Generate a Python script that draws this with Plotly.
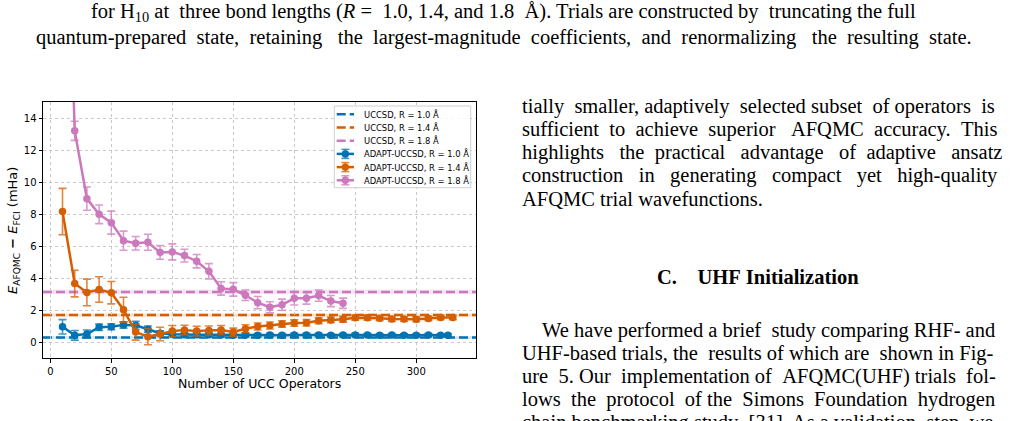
import plotly.graph_objects as go

# ---------------- data ----------------
x_r10 = [10, 20, 30, 40, 50, 60, 70, 80, 90, 100, 110, 120, 130, 140, 150, 160, 170, 180,
         190, 200, 210, 220, 230, 240, 250, 260, 270, 280, 290, 300, 310, 320, 326]
y_r10 = [0.95, 0.42, 0.50, 0.92, 0.95, 1.07, 1.05, 0.80, 0.55, 0.48, 0.45, 0.45, 0.45, 0.44,
         0.42, 0.44, 0.42, 0.43, 0.42, 0.44, 0.43, 0.44, 0.42, 0.43, 0.44, 0.43, 0.42, 0.43,
         0.42, 0.42, 0.43, 0.42, 0.42]
e_r10 = [0.45, 0.30, 0.25, 0.20, 0.18, 0.20, 0.25, 0.20, 0.15, 0.13, 0.12, 0.12, 0.12, 0.12,
         0.12, 0.12, 0.11, 0.11, 0.11, 0.11, 0.11, 0.11, 0.10, 0.10, 0.10, 0.10, 0.10, 0.10,
         0.10, 0.10, 0.10, 0.10, 0.10]

x_r14 = [10, 20, 30, 40, 50, 60, 70, 80, 90, 100, 110, 120, 130, 140, 150, 160, 170, 180,
         190, 200, 210, 220, 230, 240, 250, 260, 270, 280, 290, 300, 310, 320, 330]
y_r14 = [8.15, 3.65, 3.10, 3.28, 3.08, 2.02, 0.62, 0.33, 0.50, 0.68, 0.75, 0.68, 0.72, 0.75,
         0.62, 0.83, 0.97, 1.03, 1.13, 1.18, 1.20, 1.33, 1.38, 1.42, 1.52, 1.52, 1.48, 1.43,
         1.43, 1.42, 1.47, 1.53, 1.53]
e_r14 = [1.45, 0.83, 0.83, 0.80, 0.70, 0.78, 0.50, 0.50, 0.42, 0.35, 0.30, 0.30, 0.28, 0.28,
         0.25, 0.25, 0.22, 0.22, 0.20, 0.20, 0.20, 0.18, 0.18, 0.18, 0.16, 0.16, 0.15, 0.15,
         0.15, 0.15, 0.14, 0.14, 0.14]

x_r18 = [10, 20, 30, 40, 50, 60, 70, 80, 90, 100, 110, 120, 130, 140, 150, 160, 170, 180,
         190, 200, 210, 220, 230, 240]
y_r18 = [38.0, 13.2, 8.96, 7.98, 7.46, 6.33, 6.17, 6.23, 5.60, 5.63, 5.40, 5.05, 4.42, 3.35,
         3.29, 2.92, 2.46, 2.17, 2.33, 2.73, 2.73, 2.90, 2.56, 2.42]
e_r18 = [2.0, 0.60, 0.73, 0.58, 0.72, 0.60, 0.42, 0.50, 0.43, 0.50, 0.40, 0.42, 0.48, 0.42,
         0.42, 0.33, 0.38, 0.35, 0.35, 0.42, 0.36, 0.35, 0.35, 0.32]

uccsd_vals = [0.28, 1.68, 3.13]
uccsd_errs = [0.08, 0.10, 0.15]

colors = ["#0173b2", "#d55e00", "#cc78bc"]
err_colors = ["rgba(1,115,178,0.75)", "rgba(213,94,0,0.75)", "rgba(204,120,188,0.75)"]
band_colors = ["rgba(1,115,178,0.18)", "rgba(213,94,0,0.18)", "rgba(204,120,188,0.2)"]
labels_uccsd = ["UCCSD, R = 1.0 Å", "UCCSD, R = 1.4 Å", "UCCSD, R = 1.8 Å"]
labels_adapt = ["ADAPT-UCCSD, R = 1.0 Å", "ADAPT-UCCSD, R = 1.4 Å", "ADAPT-UCCSD, R = 1.8 Å"]

x_ticks = [0, 50, 100, 150, 200, 250, 300]
y_ticks = [0, 2, 4, 6, 8, 10, 12, 14]

caption_lines = [
    "for H<sub>10</sub> at three bond lengths (<i>R</i> = 1.0, 1.4, and 1.8 Å). Trials are constructed by truncating the full",
    "quantum-prepared state, retaining the largest-magnitude coefficients, and renormalizing the resulting state.",
]
body_lines_1 = [
    "tially smaller, adaptively selected subset of operators is",
    "sufficient to achieve superior AFQMC accuracy. This",
    "highlights the practical advantage of adaptive ansatz",
    "construction in generating compact yet high-quality",
    "AFQMC trial wavefunctions.",
]
section_title = "C.    UHF Initialization"
body_lines_2 = [
    "We have performed a brief study comparing RHF- and",
    "UHF-based trials, the results of which are shown in Fig-",
    "ure 5. Our implementation of AFQMC(UHF) trials fol-",
    "lows the protocol of the Simons Foundation hydrogen",
    "chain benchmarking study [31]. As a validation step, we",
]
# extra non-breaking spaces used to imitate the justified typesetting
caption_pad = [4, 12]
body1_pad = [4, 7, 10, 10, 0]
body2_pad = [1, 2, 4, 6, 2]

# ---------------- layout geometry (pixels) ----------------
W, H = 1017, 421
L, R, T, B = 43, 476, 102, 358


def px(x):
    return (x - L) / (R - L)


def py(y):
    return (B - y) / (B - T)


def justify(line, n):
    words = line.split(" ")
    g = len(words) - 1
    if n <= 0 or g <= 0:
        return line
    extra = [0] * g
    for j in range(n):
        extra[int((j + 0.5) * g / n)] += 1
    out = words[0]
    for i in range(g):
        out += " " + "\u00a0" * extra[i] + words[i + 1]
    return out


fig = go.Figure()

# UCCSD reference bands and dashed lines
for v, e, c, bc in zip(uccsd_vals, uccsd_errs, colors, band_colors):
    fig.add_shape(type="rect", xref="paper", yref="y", x0=0, x1=1, y0=v - e, y1=v + e,
                  fillcolor=bc, line=dict(width=0), layer="between")
    fig.add_shape(type="line", xref="paper", yref="y", x0=0, x1=1, y0=v, y1=v,
                  line=dict(color=c, width=2.5, dash="9px,4px"), layer="between")

# ADAPT series
for xs, ys, es, c, ec, lab in zip([x_r10, x_r14, x_r18], [y_r10, y_r14, y_r18],
                                  [e_r10, e_r14, e_r18], colors, err_colors, labels_adapt):
    fig.add_trace(go.Scatter(
        x=xs, y=ys, mode="lines+markers", name=lab, showlegend=False,
        line=dict(color=c, width=2.5),
        marker=dict(color=c, size=7.5),
        error_y=dict(type="data", array=es, visible=True, color=ec, thickness=1.6, width=4),
        cliponaxis=True,
    ))

axis_common = dict(
    showline=True, mirror=True, linecolor="black", linewidth=1,
    ticks="outside", ticklen=3.5, tickwidth=0.8, tickcolor="black",
    showgrid=True, gridcolor="#c8c8c8", griddash="dot", gridwidth=0.8,
    zeroline=False, tickfont=dict(family="DejaVu Sans", size=10, color="black"),
)

fig.update_xaxes(range=[-6, 349], tickvals=x_ticks, **axis_common)
fig.update_yaxes(range=[-1, 15], tickvals=y_ticks, **axis_common)

anns = []
# axis titles
anns.append(dict(x=px((L + R) / 2), y=py(383), xref="paper", yref="paper",
                 text="Number of UCC Operators", showarrow=False,
                 font=dict(family="DejaVu Sans", size=12.5, color="black"),
                 xanchor="center", yanchor="middle"))
anns.append(dict(x=px(13), y=py(231), xref="paper", yref="paper",
                 text="<i>E</i><sub>AFQMC</sub> <b>−</b> <i>E</i><sub>FCI</sub> (mHa)",
                 showarrow=False, textangle=-90,
                 font=dict(family="DejaVu Sans", size=13, color="black"),
                 xanchor="center", yanchor="middle"))

# manual legend
lg_x0, lg_x1, lg_y0, lg_y1 = 334.3, 470.7, 106, 187.7
fig.add_shape(type="rect", xref="paper", yref="paper", x0=px(lg_x0), x1=px(lg_x1),
              y0=py(lg_y1), y1=py(lg_y0), fillcolor="rgba(255,255,255,0.85)",
              line=dict(color="#d0d0d0", width=1), layer="above")
row_y = [114.3 + 13.2 * i for i in range(6)]
sw0, sw1 = 336.7, 354.0
swc = (sw0 + sw1) / 2
for i, (c, lab) in enumerate(zip(colors, labels_uccsd)):
    yy = row_y[i]
    fig.add_shape(type="line", xref="paper", yref="paper", x0=px(sw0), x1=px(sw1),
                  y0=py(yy), y1=py(yy), line=dict(color=c, width=2.5, dash="9px,4px"),
                  layer="above")
    anns.append(dict(x=px(361.7), y=py(yy), xref="paper", yref="paper", text=lab,
                     showarrow=False, xanchor="left", yanchor="middle",
                     font=dict(family="DejaVu Sans", size=8.4, color="black")))
for i, (c, ec, lab) in enumerate(zip(colors, err_colors, labels_adapt)):
    yy = row_y[i + 3]
    fig.add_shape(type="line", xref="paper", yref="paper", x0=px(sw0), x1=px(sw1),
                  y0=py(yy), y1=py(yy), line=dict(color=c, width=2.5), layer="above")
    fig.add_shape(type="line", xref="paper", yref="paper", x0=px(swc), x1=px(swc),
                  y0=py(yy - 4.5), y1=py(yy + 4.5), line=dict(color=ec, width=1.6), layer="above")
    for dy in (-4.5, 4.5):
        fig.add_shape(type="line", xref="paper", yref="paper", x0=px(swc - 4), x1=px(swc + 4),
                      y0=py(yy + dy), y1=py(yy + dy), line=dict(color=ec, width=1.6), layer="above")
    fig.add_shape(type="circle", xref="paper", yref="paper", x0=px(swc - 3.7), x1=px(swc + 3.7),
                  y0=py(yy + 3.7), y1=py(yy - 3.7), fillcolor=c, line=dict(width=0), layer="above")
    anns.append(dict(x=px(361.7), y=py(yy), xref="paper", yref="paper", text=lab,
                     showarrow=False, xanchor="left", yanchor="middle",
                     font=dict(family="DejaVu Sans", size=8.4, color="black")))

# surrounding paper text
serif = dict(family="Liberation Serif", size=20.5, color="black")
for i, line in enumerate(caption_lines):
    anns.append(dict(x=px(503.5), y=py(12 + 25 * i), xref="paper", yref="paper",
                     text=justify(line, caption_pad[i]),
                     showarrow=False, xanchor="center", yanchor="middle", font=serif))
for i, line in enumerate(body_lines_1):
    anns.append(dict(x=px(520), y=py(106.7 + 23 * i), xref="paper", yref="paper",
                     text=justify(line, body1_pad[i]),
                     showarrow=False, xanchor="left", yanchor="middle", font=serif))
anns.append(dict(x=px(758), y=py(277), xref="paper", yref="paper",
                 text="<b>" + section_title.replace(" ", "\u00a0") + "</b>",
                 showarrow=False, xanchor="center", yanchor="middle", font=serif))
for i, line in enumerate(body_lines_2):
    anns.append(dict(x=px(540 if i == 0 else 520), y=py(330 + 23 * i), xref="paper", yref="paper",
                     text=justify(line, body2_pad[i]), showarrow=False,
                     xanchor="left", yanchor="middle", font=serif))

fig.update_layout(
    width=W, height=H,
    margin=dict(l=L, r=W - R, t=T, b=H - B, pad=0),
    paper_bgcolor="white", plot_bgcolor="white",
    showlegend=False,
    annotations=anns,
)

fig.write_html("out.html")
